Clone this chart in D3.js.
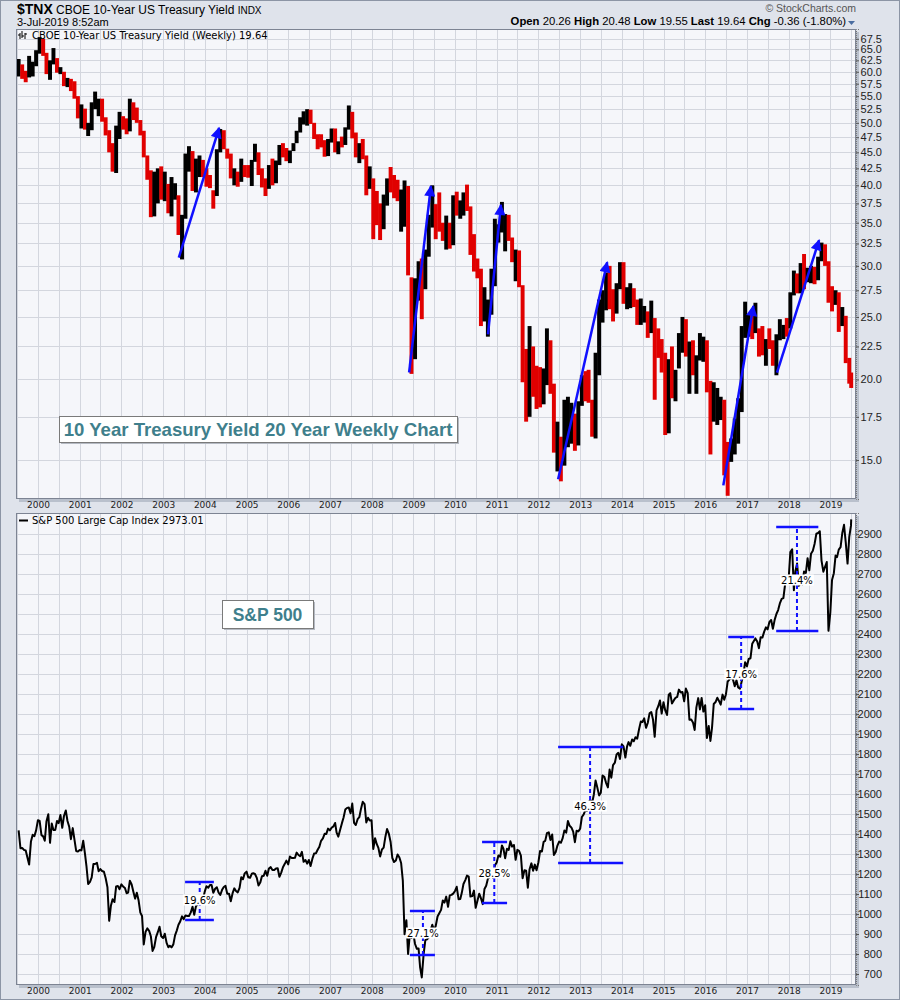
<!DOCTYPE html>
<html>
<head>
<meta charset="utf-8">
<script src="https://cdn.jsdelivr.net/npm/d3@7/dist/d3.min.js"></script>
<style>
body { margin: 0; background: #fff; }
svg text { font-family: "Liberation Sans", Arial, sans-serif; }
.mono { font-family: "DejaVu Sans", Verdana, sans-serif !important; }
</style>
</head>
<body>
<script>

// ---- data ----
// 10-year yield ($TNX, yield x10), monthly bars from Jul 1999 to Jul 2019
const tnxHigh = [
  62.8, 61.6, 60.2, 63.5, 62.2, 64.8,
  67.9, 67.5, 64.2, 62.5, 65.3, 63.0, 61.0, 60.0, 58.7, 58.5, 58.0, 55.0,
  53.4, 52.6, 50.0, 53.8, 55.9, 54.5, 54.5, 51.0, 48.7, 46.5, 49.5, 52.0,
  51.2, 50.8, 54.5, 53.8, 52.8, 50.5, 48.6, 44.5, 42.2, 42.0, 42.5, 42.8,
  42.0, 40.2, 41.2, 40.3, 38.6, 36.0, 44.8, 46.0, 45.2, 44.0, 44.5, 43.8,
  42.5, 41.5, 39.3, 45.5, 48.9, 48.7, 45.6, 44.8, 42.5, 42.0, 44.0, 43.0,
  43.0, 43.8, 46.4, 45.0, 42.5, 41.0, 43.0, 44.0, 43.7, 46.2, 46.5, 45.7,
  45.3, 46.5, 48.6, 51.0, 52.1, 52.5, 52.4, 50.0, 48.0, 48.0, 47.0, 47.2,
  49.0, 49.0, 46.8, 47.6, 49.2, 53.2, 52.0, 48.3, 46.5, 47.2, 44.5, 42.8,
  41.0, 39.2, 37.5, 38.7, 41.0, 42.7, 41.5, 40.8, 39.4, 40.7, 39.9, 28.8,
  28.7, 30.5, 30.8, 31.8, 36.0, 40.0, 37.4, 39.0, 35.0, 35.9, 35.0, 38.6,
  39.1, 37.9, 39.0, 40.1, 37.1, 33.6, 30.8, 29.7, 27.8, 26.6, 29.7, 35.5,
  34.8, 37.7, 36.1, 36.0, 33.2, 31.8, 31.7, 28.0, 22.3, 24.2, 22.5, 21.0,
  20.9, 20.8, 24.0, 23.0, 19.7, 17.2, 16.3, 18.6, 18.8, 18.4, 17.7, 18.5,
  20.3, 20.6, 20.7, 18.6, 22.0, 26.6, 27.5, 29.3, 30.0, 27.6, 28.2, 30.4,
  30.4, 27.8, 28.2, 27.7, 26.6, 26.7, 26.0, 25.5, 26.5, 24.9, 24.0, 23.1,
  22.0, 21.5, 22.5, 20.7, 23.6, 25.0, 24.8, 22.9, 23.0, 21.8, 23.6, 23.3,
  23.0, 19.9, 19.8, 19.4, 18.8, 18.6, 16.0, 16.2, 17.4, 18.7, 24.2, 26.4,
  25.2, 25.2, 26.3, 24.0, 24.2, 23.1, 24.0, 23.0, 23.5, 24.8, 24.3, 24.9,
  27.3, 29.5, 29.2, 30.3, 31.3, 29.8, 30.0, 29.9, 31.0, 32.6, 32.4, 30.5,
  27.9, 27.5, 27.3, 25.9, 25.1, 21.6, 20.5
];
const tnxLow = [
  59.0, 58.5, 57.8, 58.8, 59.0, 61.2,
  64.0, 63.5, 59.5, 58.3, 61.6, 59.8, 59.5, 57.0, 56.8, 56.0, 54.5, 50.8,
  49.0, 48.8, 47.7, 48.7, 52.5, 51.2, 50.2, 47.8, 45.0, 42.0, 41.8, 47.2,
  48.8, 48.0, 48.5, 50.5, 50.0, 47.8, 44.2, 40.8, 35.7, 35.8, 37.5, 38.0,
  37.8, 36.2, 35.8, 38.0, 33.5, 30.7, 35.5, 42.0, 39.2, 39.0, 41.2, 41.2,
  39.8, 39.6, 36.8, 38.5, 45.0, 45.5, 44.0, 41.0, 40.0, 39.8, 40.5, 41.2,
  41.1, 39.9, 43.5, 41.5, 39.7, 38.5, 39.5, 40.0, 40.3, 43.0, 44.2, 43.6,
  43.3, 45.2, 46.5, 48.3, 49.7, 49.5, 49.8, 47.2, 45.5, 45.8, 44.3, 44.4,
  46.6, 45.0, 44.7, 45.8, 46.2, 48.8, 47.3, 44.2, 43.3, 43.9, 38.6, 39.5,
  33.0, 34.7, 32.9, 34.2, 37.2, 39.0, 38.2, 37.8, 33.9, 34.5, 29.0, 20.4,
  21.5, 26.5, 24.8, 27.6, 31.0, 34.4, 33.0, 33.9, 32.8, 31.8, 31.9, 32.3,
  35.9, 35.5, 35.9, 36.5, 31.2, 29.4, 28.7, 24.2, 24.6, 23.3, 25.2, 27.9,
  32.6, 33.8, 31.6, 32.8, 30.4, 28.4, 27.8, 19.8, 17.2, 17.5, 18.8, 18.0,
  18.1, 18.3, 19.6, 19.0, 15.4, 14.4, 13.9, 14.7, 15.7, 15.9, 15.5, 15.8,
  18.2, 18.5, 18.4, 16.3, 16.2, 20.3, 24.5, 25.6, 25.7, 24.6, 25.3, 27.6,
  26.2, 25.7, 25.8, 25.9, 24.3, 24.3, 24.5, 23.2, 23.6, 18.6, 21.6, 20.5,
  16.4, 16.5, 18.7, 18.5, 20.8, 22.0, 21.7, 19.0, 20.3, 19.0, 21.4, 21.3,
  19.1, 15.3, 17.2, 17.0, 17.3, 14.2, 13.2, 14.9, 15.3, 15.9, 17.8, 23.2,
  23.3, 23.1, 23.6, 21.7, 21.8, 21.0, 22.3, 21.0, 20.3, 23.0, 23.1, 23.3,
  24.0, 27.0, 27.2, 27.2, 27.6, 28.3, 28.2, 28.1, 28.5, 30.5, 30.0, 26.3,
  25.5, 26.1, 23.7, 24.2, 21.2, 19.7, 19.4
];
const tnxClose = [
  62.0, 59.7, 58.8, 60.2, 61.9, 64.4,
  66.7, 64.1, 60.0, 62.1, 62.7, 60.3, 60.3, 57.3, 58.0, 57.5, 54.7, 51.1,
  51.1, 49.0, 49.2, 53.4, 53.8, 54.1, 50.5, 48.3, 45.9, 42.3, 47.5, 50.5,
  50.3, 48.8, 54.0, 50.9, 50.4, 48.0, 44.6, 41.4, 35.9, 38.9, 42.1, 38.2,
  39.6, 36.9, 38.0, 38.4, 33.7, 35.2, 44.1, 44.6, 39.4, 42.9, 43.3, 42.5,
  41.3, 39.7, 38.4, 45.1, 46.5, 45.8, 44.8, 41.2, 41.2, 40.3, 43.5, 42.2,
  41.3, 43.6, 44.8, 42.0, 39.8, 39.2, 42.8, 40.2, 43.3, 45.6, 44.9, 43.9,
  45.2, 45.5, 48.5, 50.5, 51.2, 51.4, 49.9, 47.3, 46.3, 46.0, 44.6, 47.0,
  48.2, 45.6, 46.4, 46.3, 48.9, 50.3, 47.4, 45.3, 45.8, 44.7, 39.4, 40.3,
  35.9, 35.1, 34.1, 37.3, 40.6, 39.7, 39.5, 38.1, 38.3, 39.5, 29.3, 22.2,
  28.4, 30.2, 26.7, 31.6, 34.6, 35.3, 34.8, 34.0, 33.1, 33.8, 32.0, 38.3,
  36.1, 36.1, 38.4, 36.6, 33.0, 29.7, 29.4, 24.7, 25.2, 26.0, 28.0, 32.9,
  33.7, 34.2, 34.7, 32.9, 30.5, 31.6, 28.0, 22.2, 19.2, 21.7, 20.7, 18.8,
  18.3, 19.7, 22.1, 19.1, 15.6, 16.4, 14.9, 15.5, 16.3, 16.9, 16.1, 17.6,
  19.8, 18.7, 18.5, 16.7, 21.3, 24.9, 25.8, 27.8, 26.1, 25.5, 27.4, 30.3,
  26.4, 26.5, 27.2, 26.5, 24.7, 25.3, 25.6, 23.4, 24.9, 23.4, 21.8, 21.7,
  16.4, 19.9, 19.2, 20.3, 21.2, 23.5, 21.8, 22.1, 20.4, 21.4, 22.1, 22.7,
  19.2, 17.3, 17.8, 18.3, 18.5, 14.7, 14.5, 15.8, 15.9, 18.3, 23.7, 24.4,
  24.5, 23.6, 23.9, 22.8, 22.0, 23.0, 22.9, 21.2, 23.3, 23.7, 24.1, 24.0,
  27.2, 28.7, 27.4, 29.5, 28.3, 28.5, 29.6, 28.6, 30.5, 31.4, 30.1, 26.9,
  26.3, 27.3, 24.1, 25.1, 21.3, 20.0, 19.64
];

// S&P 500, two closes per month (mid-month, month end) from Jul 1999, last = 2 Jul 2019
const spx = [
  1418, 1328.7, 1330, 1320.4, 1318, 1282.7, 1247, 1362.9, 1396, 1388.9, 1418, 1469.3,
  1465, 1394.5, 1388, 1366.4, 1464, 1498.6, 1356, 1452.4, 1420, 1420.6, 1465, 1454.6,
  1495, 1430.8, 1490, 1517.7, 1465, 1436.5, 1374, 1429.4, 1372, 1315.2, 1312, 1320.3,
  1318, 1366.0, 1302, 1239.9, 1150, 1160.3, 1183, 1249.5, 1250, 1255.8, 1214, 1224.4,
  1215, 1211.2, 1180, 1133.6, 966, 1040.9, 1074, 1059.8, 1138, 1139.5, 1124, 1148.1,
  1138, 1130.2, 1104, 1106.7, 1166, 1147.4, 1111, 1076.9, 1106, 1067.1, 1007, 989.8,
  847.8, 911.6, 928, 916.1, 889, 815.3, 835, 885.8, 909, 936.3, 889, 879.8,
  901, 855.7, 834, 841.2, 833, 848.2, 893, 916.9, 946, 963.6, 988, 974.5,
  993, 990.3, 990, 1008.0, 1036, 996.0, 1038, 1050.7, 1050, 1058.2, 1074, 1111.9,
  1139, 1131.1, 1145, 1144.9, 1106, 1126.2, 1134, 1107.3, 1095, 1120.7, 1135, 1140.8,
  1101, 1101.7, 1064, 1104.2, 1128, 1114.6, 1108, 1130.2, 1184, 1173.8, 1203, 1211.9,
  1184, 1181.3, 1201, 1203.6, 1200, 1180.6, 1142, 1156.9, 1189, 1191.5, 1216, 1191.3,
  1227, 1234.2, 1220, 1220.3, 1228, 1228.8, 1186, 1207.0, 1234, 1249.5, 1267, 1248.3,
  1287, 1280.1, 1280, 1280.7, 1307, 1294.9, 1289, 1310.6, 1261, 1270.1, 1252, 1270.2,
  1240, 1276.7, 1302, 1303.8, 1321, 1335.9, 1366, 1377.9, 1401, 1400.6, 1427, 1418.3,
  1431, 1438.2, 1455, 1406.8, 1387, 1420.9, 1453, 1482.4, 1522, 1530.6, 1532, 1503.4,
  1552, 1455.3, 1445, 1474.0, 1484, 1526.8, 1561, 1549.4, 1458, 1481.1, 1467, 1468.4,
  1325, 1378.6, 1349, 1330.6, 1288, 1322.7, 1332, 1385.6, 1425, 1400.4, 1360, 1280.0,
  1260, 1267.4, 1298, 1282.8, 1255, 1166.4, 899, 968.8, 800, 896.2, 880, 903.3,
  850, 825.9, 827, 735.1, 683, 797.9, 869, 872.8, 882, 919.1, 946, 919.3,
  940, 987.5, 1004, 1020.6, 1068, 1057.1, 1087, 1036.2, 1093, 1095.6, 1102, 1115.1,
  1136, 1073.9, 1075, 1104.5, 1150, 1169.4, 1192, 1186.7, 1087, 1089.4, 1117, 1030.7,
  1065, 1101.6, 1079, 1049.3, 1125, 1141.2, 1176, 1183.3, 1200, 1180.6, 1243, 1257.6,
  1293, 1286.1, 1343, 1327.2, 1279, 1325.8, 1320, 1363.6, 1337, 1345.2, 1271, 1320.6,
  1316, 1292.3, 1179, 1218.9, 1216, 1131.4, 1224, 1253.3, 1216, 1247.0, 1219, 1257.6,
  1315, 1312.4, 1361, 1365.7, 1404, 1408.5, 1370, 1397.9, 1295, 1310.3, 1342, 1362.2,
  1356, 1379.3, 1418, 1406.6, 1465, 1440.7, 1433, 1412.2, 1359, 1416.2, 1413, 1426.2,
  1485, 1498.1, 1519, 1514.7, 1560, 1569.2, 1555, 1597.6, 1667, 1630.7, 1593, 1606.3,
  1692, 1685.7, 1656, 1633.0, 1722, 1681.6, 1744, 1756.5, 1798, 1805.8, 1775, 1848.4,
  1838, 1782.6, 1838, 1859.5, 1841, 1872.3, 1864, 1883.9, 1877, 1923.6, 1962, 1960.2,
  1978, 1930.7, 1955, 2003.4, 2010, 1972.3, 1886, 2018.1, 2039, 2067.6, 2002, 2058.9,
  2019, 1995.0, 2097, 2104.5, 2053, 2067.9, 2081, 2085.5, 2122, 2107.4, 2110, 2063.1,
  2127, 2103.8, 1971, 1972.2, 1958, 1920.0, 2033, 2079.4, 2023, 2080.4, 2012, 2043.9,
  1880, 1940.2, 1865, 1932.2, 2050, 2059.7, 2081, 2065.3, 2047, 2096.9, 2071, 2098.9,
  2162, 2173.6, 2184, 2170.9, 2139, 2168.3, 2133, 2126.2, 2164, 2198.8, 2259, 2238.8,
  2275, 2278.9, 2351, 2363.6, 2378, 2362.7, 2329, 2384.2, 2382, 2411.8, 2433, 2423.4,
  2459, 2470.3, 2426, 2471.7, 2500, 2519.4, 2553, 2575.3, 2579, 2647.6, 2675, 2673.6,
  2810, 2823.8, 2619, 2713.8, 2752, 2640.9, 2656, 2648.1, 2713, 2705.3, 2779, 2718.4,
  2801, 2816.3, 2850, 2901.5, 2905, 2914.0, 2767, 2711.7, 2736, 2760.2, 2416, 2506.9,
  2670, 2704.1, 2792, 2784.5, 2822, 2834.4, 2905, 2945.8, 2859, 2752.1, 2886, 2941.8,
  2973.01
];

const years = d3.range(2000, 2020);
const tnxTicks = d3.range(15, 68, 2.5);
const spxTicks = d3.range(700, 3000, 100);

// blue trend arrows on the yield panel: [start date, start value, end date, end value]
const arrows = [
  ["2003-05-18", 30.9, "2004-05-05", 49.1],
  ["2008-11-24", 20.5, "2009-06-03", 39.9],
  ["2010-10-16", 23.5, "2011-02-06", 37.3],
  ["2012-06-21", 14.0, "2013-08-25", 30.4],
  ["2016-06-07", 13.7, "2017-02-25", 26.0],
  ["2017-09-20", 20.5, "2018-09-24", 32.9]
];

// S&P gain brackets: [from, to, dashed-line date, low, high, label value, label]
const gains = [
  ["2003-07-12", "2004-03-20", "2003-11-17", 970, 1160, 1070, "19.6%"],
  ["2008-12-01", "2009-07-08", "2009-03-25", 795, 1015, 905, "27.1%"],
  ["2010-08-25", "2011-04-01", "2010-12-10", 1055, 1360, 1205, "28.5%"],
  ["2012-06-21", "2014-01-12", "2013-03-28", 1255, 1835, 1540, "46.3%"],
  ["2016-07-20", "2017-03-04", "2016-11-10", 2025, 2385, 2200, "17.6%"],
  ["2017-09-13", "2018-09-17", "2018-03-14", 2415, 2935, 2670, "21.4%"]
];

// ---- layout ----
const W = 900, H = 1000;
const P1 = {x0: 16, x1: 856, y0: 29, y1: 499};
const P2 = {x0: 16, x1: 856, y0: 513, y1: 985};
const lastDate = new Date(2019, 6, 2);
const parse = d3.timeParse("%Y-%m-%d");
const teal = "#3f7f8c";
const blue = "#1010ff";

const x = d3.scaleTime()
  .domain([new Date(1999, 5, 22), new Date(2019, 7, 13)])
  .range([P1.x0, P1.x1]);
const y1 = d3.scaleLog().domain([13.05, 69.9]).range([P1.y1, P1.y0]);
const y2 = d3.scaleLinear().domain([645, 3005]).range([P2.y1, P2.y0]);

const tnxDates = tnxClose.map((d, i) => {
  const dt = new Date(1999, 6 + i, 15);
  return dt > lastDate ? lastDate : dt;
});
const spxDates = spx.map((d, i) => {
  const m = Math.floor(i / 2);
  const dt = i % 2 == 0 ? new Date(1999, 6 + m, 15) : new Date(1999, 7 + m, 0);
  return dt > lastDate ? lastDate : dt;
});

const svg = d3.select("body").append("svg")
  .attr("width", W)
  .attr("height", H);

svg.append("rect").attr("width", W).attr("height", H).attr("fill", "#dfe3eb");
svg.append("rect")
  .attr("x", 0.5).attr("y", 0.5).attr("width", W - 1).attr("height", H - 1)
  .attr("fill", "none").attr("stroke", "#8c95a5");

const defs = svg.append("defs");
defs.append("marker")
  .attr("id", "head")
  .attr("viewBox", "0 0 10 10")
  .attr("refX", 9).attr("refY", 5)
  .attr("markerWidth", 5).attr("markerHeight", 4.5)
  .attr("orient", "auto")
  .append("path").attr("d", "M0,0 L10,5 L0,10 Z").attr("fill", blue);

[["c1", P1], ["c2", P2]].forEach(([id, p]) => {
  defs.append("clipPath").attr("id", id)
    .append("rect").attr("x", p.x0).attr("y", p.y0)
    .attr("width", p.x1 - p.x0).attr("height", p.y1 - p.y0);
});

// header
const hdr = svg.append("g");
hdr.append("text").attr("x", 17).attr("y", 14)
  .style("font-size", "14px").style("font-weight", "bold").text("$TNX");
hdr.append("text").attr("x", 56).attr("y", 14).style("font-size", "12px")
  .text("CBOE 10-Year US Treasury Yield ")
  .append("tspan").style("font-size", "10px").text("INDX");
hdr.append("text").attr("x", 17).attr("y", 26).style("font-size", "11px").text("3-Jul-2019 8:52am");
hdr.append("text").attr("x", 856).attr("y", 12).attr("text-anchor", "end")
  .style("font-size", "10.5px").attr("fill", "#555").text("\u00a9 StockCharts.com");

const ohlc = hdr.append("text").attr("x", 846).attr("y", 25).attr("text-anchor", "end")
  .style("font-size", "11.3px");
[["Open", "20.26"], ["High", "20.48"], ["Low", "19.55"], ["Last", "19.64"], ["Chg", "-0.36 (-1.80%)"]]
  .forEach(([k, v], i) => {
    ohlc.append("tspan").style("font-weight", "bold").text((i ? "  " : "") + k + " ");
    ohlc.append("tspan").text(v);
  });
hdr.append("path").attr("d", "M848,21 L855,21 L851.5,25 Z").attr("fill", "#4a6da0");

// panels
function panel(p, yScale, ticks, fmt, clip) {
  svg.append("rect")
    .attr("x", p.x0 + 3).attr("y", p.y0 + 3)
    .attr("width", p.x1 - p.x0).attr("height", p.y1 - p.y0)
    .attr("fill", "#b9c0cc");
  svg.append("rect")
    .attr("x", p.x0).attr("y", p.y0)
    .attr("width", p.x1 - p.x0).attr("height", p.y1 - p.y0)
    .attr("fill", "#f5f6fa");

  const g = svg.append("g").attr("clip-path", "url(#" + clip + ")");
  g.selectAll("line.h").data(ticks).enter().append("line")
    .attr("x1", p.x0).attr("x2", p.x1)
    .attr("y1", d => Math.round(yScale(d)) + 0.5).attr("y2", d => Math.round(yScale(d)) + 0.5)
    .attr("stroke", "#d3d6de");
  g.selectAll("line.v").data(d3.timeMonth.every(6).range(x.domain()[0], x.domain()[1])).enter().append("line")
    .attr("y1", p.y0).attr("y2", p.y1)
    .attr("x1", d => Math.round(x(d)) + 0.5).attr("x2", d => Math.round(x(d)) + 0.5)
    .attr("stroke", "#d3d6de");

  const ax = svg.append("g")
    .attr("transform", "translate(" + p.x1 + ",0)")
    .call(d3.axisRight(yScale).tickValues(ticks).tickFormat(fmt).tickSize(3));
  ax.select(".domain").attr("stroke", "#777").attr("stroke-dasharray", "1,1");
  ax.selectAll(".tick line").attr("stroke", "#555");
  ax.selectAll(".tick text")
    .attr("x", 26).attr("text-anchor", "end")
    .style("font-size", "11px").attr("fill", "#222");

  const xa = svg.append("g")
    .attr("transform", "translate(0," + p.y1 + ")")
    .call(d3.axisBottom(x).ticks(d3.timeYear.every(1)).tickFormat(d3.timeFormat("%Y")).tickSize(0).tickPadding(3));
  xa.select(".domain").remove();
  xa.selectAll("text").attr("class", "mono").style("font-size", "9px").attr("fill", "#222");

  svg.append("rect")
    .attr("x", p.x0 + 0.5).attr("y", p.y0 + 0.5)
    .attr("width", p.x1 - p.x0 - 1).attr("height", p.y1 - p.y0 - 1)
    .attr("fill", "none").attr("stroke", "#7d8493");
  return g;
}

const g1 = panel(P1, y1, tnxTicks, d3.format(".1f"), "c1");
const g2 = panel(P2, y2, spxTicks, d3.format("d"), "c2");

// yield bars, one per month, wide enough to touch the next one
const barW = x(new Date(2000, 1, 1)) - x(new Date(2000, 0, 1)) + 0.4;
g1.selectAll("rect.bar").data(tnxClose).enter().append("rect")
  .attr("x", (d, i) => x(tnxDates[i]) - barW / 2)
  .attr("width", barW)
  .attr("y", (d, i) => y1(tnxHigh[i]))
  .attr("height", (d, i) => y1(tnxLow[i]) - y1(tnxHigh[i]))
  .attr("fill", (d, i) => (i > 0 && d < tnxClose[i - 1]) ? "#e00000" : "#000");

// arrows
g1.selectAll("line.arrow").data(arrows).enter().append("line")
  .attr("x1", d => x(parse(d[0]))).attr("y1", d => y1(d[1]))
  .attr("x2", d => x(parse(d[2]))).attr("y2", d => y1(d[3]))
  .attr("stroke", blue).attr("stroke-width", 2.5)
  .attr("marker-end", "url(#head)");

// S&P line
g2.append("path")
  .datum(spx)
  .attr("fill", "none").attr("stroke", "#000").attr("stroke-width", 2)
  .attr("stroke-linejoin", "round")
  .attr("d", d3.line().x((d, i) => x(spxDates[i])).y(d => y2(d)));

// gain brackets
gains.forEach(g => {
  const a = x(parse(g[0])), b = x(parse(g[1])), m = x(parse(g[2]));
  const bg = g2.append("g");
  [g[3], g[4]].forEach(v => {
    bg.append("line").attr("x1", a).attr("x2", b).attr("y1", y2(v)).attr("y2", y2(v))
      .attr("stroke", blue).attr("stroke-width", 2.5);
  });
  bg.append("line").attr("x1", m).attr("x2", m).attr("y1", y2(g[3])).attr("y2", y2(g[4]))
    .attr("stroke", blue).attr("stroke-width", 2).attr("stroke-dasharray", "4,3");
  const t = bg.append("text").attr("class", "mono")
    .attr("x", m).attr("y", y2(g[5]) + 3.5).attr("text-anchor", "middle")
    .style("font-size", "10px").text(g[6]);
  const bb = t.node().getBBox();
  bg.insert("rect", "text")
    .attr("x", bb.x - 1).attr("y", bb.y).attr("width", bb.width + 2).attr("height", bb.height)
    .attr("fill", "#fff");
});

// legends
svg.append("path").attr("d", "M20,33 V39 M18,35 H20 M22,31 V38 M22,36 H24 M25,33 V39 M25,34 H27")
  .attr("stroke", "#000").attr("stroke-width", 1).attr("fill", "none");
svg.append("text").attr("class", "mono").attr("x", 32).attr("y", 39)
  .style("font-size", "10px").text("CBOE 10-Year US Treasury Yield (Weekly) 19.64");
svg.append("line").attr("x1", 19).attr("x2", 28).attr("y1", 520.5).attr("y2", 520.5)
  .attr("stroke", "#000").attr("stroke-width", 2);
svg.append("text").attr("class", "mono").attr("x", 32).attr("y", 524)
  .style("font-size", "10px").text("S&P 500 Large Cap Index 2973.01");

// caption boxes
function caption(x0, y0, w, h, txt, size) {
  svg.append("rect").attr("x", x0 + 2).attr("y", y0 + 2).attr("width", w).attr("height", h).attr("fill", "#b4b9c2");
  svg.append("rect").attr("x", x0 + 0.5).attr("y", y0 + 0.5).attr("width", w).attr("height", h)
    .attr("fill", "#fff").attr("stroke", "#7a7a7a");
  svg.append("text").attr("x", x0 + w / 2).attr("y", y0 + h / 2 + 6.5).attr("text-anchor", "middle")
    .style("font-size", size + "px").style("font-weight", "bold").attr("fill", teal).text(txt);
}
caption(59, 416, 398, 26, "10 Year Treasury Yield 20 Year Weekly Chart", 18.6);
caption(222, 600, 91, 28, "S&P 500", 17.5);

</script>
</body>
</html>
